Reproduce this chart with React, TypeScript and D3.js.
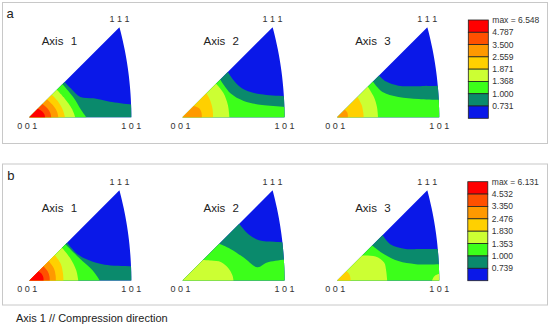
import React from 'react';
import * as d3 from 'd3';

type Pt = [number, number];
type Contour = { level: number; corner?: '001' | '101'; pts: Pt[] };

// band colours, lowest -> highest
const bandColors = ['#0a18e8', '#0a8a6c', '#3cff1a', '#ccff33', '#ffd000', '#ff9900', '#ff5000', '#ff0000'];

const levelsA = [0.731, 1.0, 1.368, 1.871, 2.559, 3.5, 4.787];
const maxA = 6.548;
const levelsB = [0.739, 1.0, 1.353, 1.83, 2.476, 3.35, 4.532];
const maxB = 6.131;

const axisNames = ['1', '2', '3'];

// contour lines in triangle units (001 -> 101 is 0..1, 111 sits at 0.884, 0.884)
const a1: Contour[] = [
  { level: 0.731, pts: [[0.345, 0.345], [0.42, 0.27], [0.5, 0.2], [0.63, 0.186], [0.79, 0.153], [1.05, 0.12]] },
  { level: 1.0, pts: [[0.325, 0.325], [0.43, 0.2], [0.51, 0.07], [0.56, 0]] },
  { level: 1.368, pts: [[0.27, 0.27], [0.35, 0.18], [0.42, 0.08], [0.45, 0]] },
  { level: 1.871, pts: [[0.22, 0.22], [0.285, 0.15], [0.33, 0.07], [0.35, 0]] },
  { level: 2.559, pts: [[0.175, 0.175], [0.23, 0.12], [0.27, 0.06], [0.285, 0]] },
  { level: 3.5, pts: [[0.13, 0.13], [0.175, 0.09], [0.205, 0.045], [0.215, 0]] },
  { level: 4.787, pts: [[0.085, 0.085], [0.125, 0.06], [0.148, 0.03], [0.155, 0]] },
];
const a2: Contour[] = [
  { level: 0.731, pts: [[0.445, 0.445], [0.53, 0.33], [0.62, 0.265], [0.77, 0.225], [1.05, 0.205]] },
  { level: 1.0, pts: [[0.37, 0.37], [0.47, 0.235], [0.6, 0.16], [0.78, 0.12], [1.05, 0.1]] },
  { level: 1.368, pts: [[0.33, 0.33], [0.4, 0.24], [0.445, 0.12], [0.46, 0]] },
  { level: 1.871, pts: [[0.235, 0.235], [0.27, 0.17], [0.295, 0.08], [0.3, 0]] },
  { level: 2.559, pts: [[0.11, 0.11], [0.16, 0.09], [0.185, 0.05], [0.19, 0]] },
];
const a3: Contour[] = [
  { level: 0.731, pts: [[0.41, 0.41], [0.48, 0.35], [0.6, 0.31], [0.78, 0.305], [1.05, 0.31]] },
  { level: 1.0, pts: [[0.35, 0.35], [0.44, 0.25], [0.6, 0.2], [0.8, 0.18], [1.05, 0.17]] },
  { level: 1.368, pts: [[0.3, 0.3], [0.36, 0.2], [0.39, 0.1], [0.4, 0]] },
  { level: 1.871, pts: [[0.2, 0.2], [0.24, 0.12], [0.255, 0.05], [0.26, 0]] },
  { level: 2.559, pts: [[0.075, 0.075], [0.1, 0.045], [0.105, 0]] },
];
const b1: Contour[] = [
  { level: 0.739, pts: [[0.37, 0.37], [0.47, 0.26], [0.58, 0.2], [0.74, 0.155], [1.05, 0.14]] },
  { level: 1.0, pts: [[0.355, 0.355], [0.49, 0.22], [0.62, 0.1], [0.69, 0]] },
  { level: 1.353, pts: [[0.32, 0.32], [0.4, 0.22], [0.46, 0.1], [0.48, 0]] },
  { level: 1.83, pts: [[0.25, 0.25], [0.31, 0.16], [0.33, 0.07], [0.335, 0]] },
  { level: 2.476, pts: [[0.19, 0.19], [0.24, 0.12], [0.258, 0.05], [0.26, 0]] },
  { level: 3.35, pts: [[0.14, 0.14], [0.18, 0.09], [0.198, 0.04], [0.2, 0]] },
  { level: 4.532, pts: [[0.09, 0.09], [0.125, 0.06], [0.138, 0.03], [0.14, 0]] },
];
const b2: Contour[] = [
  { level: 0.739, pts: [[0.556, 0.556], [0.65, 0.45], [0.75, 0.395], [0.9, 0.38], [1.05, 0.37]] },
  { level: 1.0, pts: [[0.36, 0.36], [0.47, 0.31], [0.6, 0.225], [0.735, 0.13], [0.83, 0.176], [1.05, 0.21]] },
  { level: 1.353, pts: [[0.2, 0.2], [0.28, 0.195], [0.38, 0.18], [0.45, 0.12], [0.49, 0.05], [0.5, 0]] },
];
const b3: Contour[] = [
  { level: 0.739, pts: [[0.445, 0.445], [0.52, 0.356], [0.67, 0.31], [0.8, 0.31], [1.05, 0.31]] },
  { level: 1.0, pts: [[0.343, 0.343], [0.44, 0.27], [0.6, 0.19], [0.77, 0.16], [1.05, 0.16]] },
  { level: 1.353, pts: [[0.245, 0.245], [0.376, 0.235], [0.46, 0.176], [0.48, 0.095], [0.49, 0]] },
  { level: 1.353, corner: '101', pts: [[0.93, 0], [0.95, 0.04], [0.98, 0.06], [1.05, 0.07]] },
  { level: 1.83, pts: [[0.09, 0.09], [0.12, 0.06], [0.13, 0.02], [0.13, 0]] },
];

const SIZE = 102;
const triX = [29.3, 182.5, 337.2];
const titleDx = [12.4, 21, 18];
const TIP = 0.8837;
const ARC_C = -2.4142;
const ARC_R = 3.4142;
const font = "'Liberation Sans', Arial, sans-serif";

const panels = [
  { label: 'a', top: 2.5, base: 117.3, titleY: 45, levels: levelsA, max: maxA, tris: [a1, a2, a3], legendX: 468.3, legendTop: 20, legendBottom: 118.3 },
  { label: 'b', top: 164, base: 280.5, titleY: 212, levels: levelsB, max: maxB, tris: [b1, b2, b3], legendX: 467.8, legendTop: 181.7, legendBottom: 280.7 },
];

function outline(): Pt[] {
  const end = Math.atan2(TIP, TIP - ARC_C);
  const arc = d3.range(0, 21).map(i => {
    const a = (end * i) / 20;
    return [ARC_C + ARC_R * Math.cos(a), ARC_R * Math.sin(a)] as Pt;
  });
  return [[0, 0], ...arc, [TIP, TIP]];
}

function Triangle({ id, x0, base, contours, levels, title, titleY, dx }: any) {
  const x = d3.scaleLinear().domain([0, 1]).range([x0, x0 + SIZE]);
  const y = d3.scaleLinear().domain([0, 1]).range([base, base - SIZE]);
  const color = d3.scaleThreshold<number, string>().domain(levels).range(bandColors);
  const straight = d3.line<Pt>().x(d => x(d[0])).y(d => y(d[1]));
  const smooth = d3.line<Pt>().x(d => x(d[0])).y(d => y(d[1])).curve(d3.curveCatmullRom.alpha(0.5));
  const shape = straight(outline()) + 'Z';

  const bandPath = (c: Contour) => {
    const first = c.pts[0];
    const last = c.pts[c.pts.length - 1];
    let tail: Pt[];
    if (c.corner === '101') {
      tail = [[1.3, last[1]], [1.3, -0.3], [first[0], -0.3]];
    } else {
      tail = last[1] <= 0.001 ? [[last[0], -0.3]] : [[1.3, last[1]], [1.3, -0.3]];
      tail = [...tail, [-0.3, -0.3], [first[0] - 0.3, first[1] + 0.3]];
    }
    return smooth(c.pts) + tail.map(p => `L${x(p[0])},${y(p[1])}`).join('') + 'Z';
  };

  return (
    <g>
      <clipPath id={id}>
        <path d={shape} />
      </clipPath>
      <path d={shape} fill={bandColors[0]} />
      <g clipPath={`url(#${id})`}>
        {contours.map((c: Contour, i: number) => (
          <path key={i} d={bandPath(c)} fill={color(c.level)} />
        ))}
      </g>
      <text x={x0 + dx} y={titleY} fontSize={11.5} fill="#222" fontFamily={font}>
        Axis<tspan x={x0 + dx + 29}>{title}</tspan>
      </text>
      <g fontSize={9} fill="#333" fontFamily={font} textAnchor="middle">
        <text x={x(TIP)} y={y(TIP) - 5.5}>1 1 1</text>
        <text x={x(0) - 2} y={y(0) + 11.5}>0 0 1</text>
        <text x={x(1)} y={y(0) + 11.5}>1 0 1</text>
      </g>
    </g>
  );
}

function Legend({ x0, top, bottom, levels, max }: any) {
  const y = d3.scaleLinear().domain([0, 8]).range([top, bottom]);
  const labels = [`max = ${max.toFixed(3)}`, ...levels.slice().reverse().map((v: number) => v.toFixed(3))];
  return (
    <g>
      {d3.range(8).map(i => (
        <rect key={i} x={x0} y={y(i)} width={20} height={y(i + 1) - y(i)} fill={bandColors[7 - i]} stroke="#222" strokeWidth={0.8} />
      ))}
      {labels.map((t, i) => (
        <text key={t} x={x0 + 24} y={y(i)} dy="0.35em" fontSize={8.5} fill="#333" fontFamily={font}>{t}</text>
      ))}
    </g>
  );
}

export default function App() {
  return (
    <svg width={550} height={329} style={{ position: 'absolute', left: 0, top: 0, background: '#fff' }}>
      <rect x={0} y={0} width={550} height={329} fill="#fff" />
      {panels.map((p, pi) => (
        <g key={p.label}>
          <rect x={2.5} y={p.top} width={545} height={141} fill="none" stroke="#c8c8c8" />
          <text x={pi === 0 ? 6.5 : 7.3} y={p.top + 15.8} fontSize={13} fill="#222" fontFamily={font}>{p.label}</text>
          {p.tris.map((contours, i) => (
            <Triangle key={i} id={`clip-${p.label}${i}`} x0={triX[i]} base={p.base} contours={contours}
              levels={p.levels} title={axisNames[i]} titleY={p.titleY} dx={titleDx[i]} />
          ))}
          <Legend x0={p.legendX} top={p.legendTop} bottom={p.legendBottom} levels={p.levels} max={p.max} />
        </g>
      ))}
      <text x={16} y={322} fontSize={11} fill="#222" fontFamily={font}>Axis 1 // Compression direction</text>
    </svg>
  );
}
